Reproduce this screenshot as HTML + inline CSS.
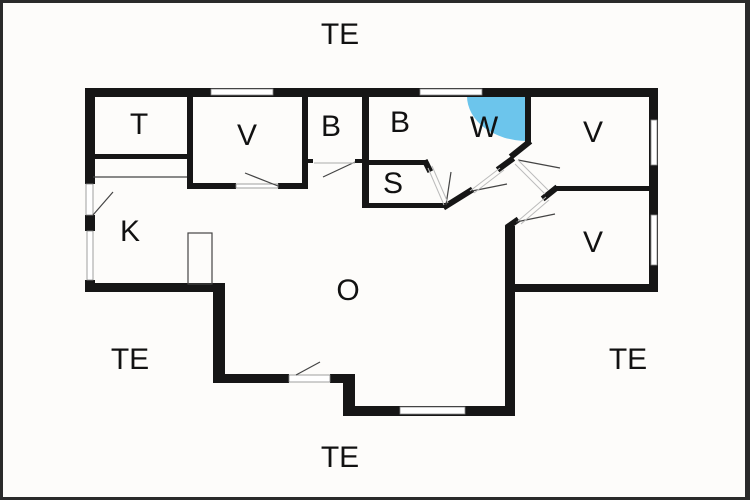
<!DOCTYPE html>
<html><head><meta charset="utf-8"><style>
html,body{margin:0;padding:0;background:#fdfcfa;}
svg{display:block}
text{font-family:"Liberation Sans",sans-serif;fill:#111;}
</style></head><body>
<svg width="750" height="500" viewBox="0 0 750 500" xmlns="http://www.w3.org/2000/svg">
<rect x="0" y="0" width="750" height="500" fill="#2a2a2a"/>
<rect x="3" y="3" width="742" height="494" fill="#fdfcfa"/>

<path d="M527 96 L467 96 A60 45 0 0 0 527 141 Z" fill="#6cc5ec"/>

<g fill="#161616">
<rect x="85" y="88" width="573" height="9"/>
<rect x="85" y="88" width="10" height="96"/>
<rect x="85" y="215" width="10" height="16"/>
<rect x="85" y="280" width="10" height="12"/>
<rect x="85" y="283" width="140" height="9"/>
<rect x="213" y="283" width="12" height="100"/>
<rect x="213" y="374" width="76" height="9"/>
<rect x="330" y="374" width="25" height="9"/>
<rect x="343" y="374" width="12" height="42"/>
<rect x="343" y="406" width="172" height="10"/>
<rect x="505" y="226" width="10" height="190"/>
<rect x="505" y="284" width="153" height="8"/>
<rect x="649" y="88" width="9" height="204"/>
<rect x="187" y="96" width="6" height="93"/>
<rect x="93" y="154" width="94" height="5"/>
<rect x="187" y="183" width="49" height="6"/>
<rect x="278" y="183" width="30" height="6"/>
<rect x="302" y="96" width="6" height="93"/>
<rect x="306" y="159" width="7" height="4"/>
<rect x="355" y="159" width="14" height="4"/>
<rect x="362" y="96" width="7" height="112"/>
<rect x="369" y="160" width="59" height="5"/>
<rect x="369" y="203" width="77" height="5"/>
<rect x="525" y="96" width="6" height="48"/>
<rect x="555" y="186" width="95" height="5"/>
</g>
<g stroke="#161616" stroke-width="6" fill="none" stroke-linecap="square">
<line x1="446" y1="206" x2="470" y2="191"/>
<line x1="528" y1="143" x2="513" y2="155"/>
<line x1="500" y1="168" x2="511" y2="160"/>
<line x1="545" y1="197" x2="555" y2="189"/>
<line x1="509" y1="226" x2="516" y2="221"/>
<line x1="426" y1="163" x2="429" y2="169"/>
</g>
<g fill="#fff" stroke="#888" stroke-width="0.8">
<rect x="211" y="89" width="62" height="6"/>
<rect x="420" y="89" width="62" height="6"/>
<rect x="86" y="184" width="7" height="31"/>
<rect x="87" y="231" width="6" height="49"/>
<rect x="651" y="120" width="6" height="45"/>
<rect x="651" y="215" width="6" height="50"/>
<rect x="400" y="407" width="65" height="7"/>
<rect x="289" y="375" width="41" height="7"/>
<rect x="236" y="184" width="42" height="4"/>
</g>
<g stroke="#444" stroke-width="1.2" fill="none">
<line x1="93" y1="177" x2="187" y2="177"/>
<rect x="188" y="233" width="24" height="51"/>
<line x1="93" y1="215" x2="113" y2="192"/>
<line x1="245" y1="173" x2="278" y2="186"/>
<line x1="323" y1="177" x2="355" y2="162"/>
<line x1="314" y1="163" x2="355" y2="163" stroke="#bbb"/>
<line x1="296" y1="375" x2="320" y2="362"/>
<line x1="446" y1="205" x2="451" y2="172"/>
<line x1="472" y1="191" x2="507" y2="184"/>
<line x1="518" y1="160" x2="560" y2="168"/>
<line x1="516" y1="222" x2="555" y2="214"/>
</g>
<g stroke="#bbb" stroke-width="1" fill="none">
<line x1="428" y1="168" x2="444" y2="205"/>
<line x1="432" y1="166" x2="448" y2="203"/>
<line x1="470" y1="191" x2="500" y2="168"/>
<line x1="474" y1="193" x2="504" y2="170"/>
<line x1="518" y1="160" x2="548" y2="190"/>
<line x1="515" y1="164" x2="545" y2="194"/>
<line x1="518" y1="221" x2="546" y2="197"/>
<line x1="521" y1="224" x2="549" y2="200"/>
</g>
<g font-size="30">
<text x="340" y="44" text-anchor="middle">TE</text>
<text x="340" y="467" text-anchor="middle">TE</text>
<text x="130" y="369" text-anchor="middle">TE</text>
<text x="628" y="369" text-anchor="middle">TE</text>
<text x="139" y="134" text-anchor="middle">T</text>
<text x="247" y="145" text-anchor="middle">V</text>
<text x="331" y="136" text-anchor="middle">B</text>
<text x="400" y="132" text-anchor="middle">B</text>
<text x="484" y="137" text-anchor="middle">W</text>
<text x="593" y="142" text-anchor="middle">V</text>
<text x="593" y="252" text-anchor="middle">V</text>
<text x="393" y="193" text-anchor="middle">S</text>
<text x="130" y="241" text-anchor="middle">K</text>
<text x="348" y="300" text-anchor="middle">O</text>
</g>
</svg>
</body></html>
